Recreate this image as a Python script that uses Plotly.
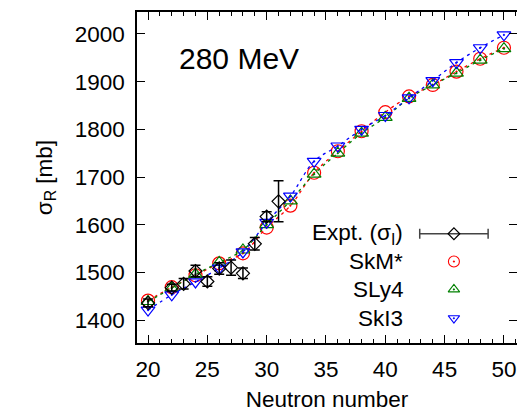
import plotly.graph_objects as go

# ---- data ----
N_theory = [20, 22, 24, 26, 28, 30, 32, 34, 36, 38, 40, 42, 44, 46, 48, 50]
skm = [1441, 1469, 1494, 1519, 1540, 1594, 1640, 1709, 1754, 1796, 1836, 1869, 1893, 1921, 1948, 1971]
sly4 = [1439, 1467, 1496, 1521, 1547, 1600, 1650, 1706, 1750, 1792, 1825, 1865, 1893, 1918, 1945, 1969]
ski3 = [1421, 1453, 1480, 1509, 1543, 1605, 1660, 1733, 1765, 1800, 1829, 1866, 1902, 1940, 1971, 1998]

N_expt = [20, 22, 23, 24, 25, 26, 27, 28, 29, 30, 31]
expt = [1436, 1468, 1476, 1503, 1481, 1508, 1510, 1498, 1560, 1617, 1649]
expt_err = [8, 7, 11, 12, 10, 12, 16, 11, 13, 10, 43]

series_names = ["Expt. (σ<sub>I</sub>)", "SkM*", "SLy4", "SkI3"]
x_ticks = [20, 25, 30, 35, 40, 45, 50]
y_ticks = [1400, 1500, 1600, 1700, 1800, 1900, 2000]

FONT = "Liberation Sans, Arial, Helvetica, sans-serif"
FS = 22.5

fig = go.Figure()

theory = [
    (skm, "red", "circle-open-dot", 13),
    (sly4, "green", "triangle-up-open-dot", 12),
    (ski3, "blue", "triangle-down-open-dot", 12),
]
for vals, col, sym, sz in theory:
    fig.add_trace(go.Scatter(
        x=N_theory, y=vals, mode="lines+markers",
        line=dict(color=col, width=1.3, dash="3px,4px", shape="spline"),
        marker=dict(symbol=sym, size=sz, color=col, line=dict(width=1.2, color=col)),
        showlegend=False,
    ))

fig.add_trace(go.Scatter(
    x=N_expt, y=expt, mode="markers",
    marker=dict(symbol="diamond-open", size=10, color="black", line=dict(width=1.2, color="black")),
    error_y=dict(type="data", array=expt_err, visible=True, color="black", thickness=1.5, width=5),
    showlegend=False,
))

# ---- manual legend (text left, sample right) on overlay axis in [0,1] ----
leg_rows = [0.330, 0.246, 0.162, 0.075]
leg_text_x = 0.705
leg_sym_x = 0.834
for name, yy in zip(series_names, leg_rows):
    fig.add_annotation(xref="paper", yref="paper", x=leg_text_x, y=yy, text=name,
                       showarrow=False, xanchor="right", yanchor="middle",
                       font=dict(family=FONT, size=FS, color="black"))

fig.add_trace(go.Scatter(
    x=[leg_sym_x], y=[leg_rows[0]], xaxis="x2", yaxis="y2", mode="markers",
    marker=dict(symbol="diamond-open", size=9, color="black", line=dict(width=1.2, color="black")),
    error_x=dict(type="constant", value=0.09, visible=True, color="#444", thickness=1.5, width=5),
    showlegend=False,
))
for (vals, col, sym, sz), yy in zip(theory, leg_rows[1:]):
    fig.add_trace(go.Scatter(
        x=[leg_sym_x], y=[yy], xaxis="x2", yaxis="y2", mode="markers",
        marker=dict(symbol=sym, size=sz - 2, color=col, line=dict(width=1.1, color=col)),
        showlegend=False,
    ))

fig.add_annotation(xref="paper", yref="paper", x=0.105, y=0.859, text="280 MeV",
                   showarrow=False, xanchor="left", yanchor="middle",
                   font=dict(family=FONT, size=30, color="black"))

axis_common = dict(
    showline=True, linecolor="black", linewidth=1.6, mirror="allticks",
    ticks="inside", tickcolor="black", tickwidth=1.4, ticklen=8,
    showgrid=False, zeroline=False,
    tickfont=dict(family=FONT, size=FS, color="black"),
)

# page body has an 8px margin, so the figure is sized 8px smaller each way
fig.update_layout(
    width=517, height=407,
    margin=dict(l=129, r=8, t=2, b=72),
    paper_bgcolor="white", plot_bgcolor="white",
    font=dict(family=FONT, size=FS, color="black"),
    xaxis=dict(range=[19.07, 51.1], tickvals=x_ticks, ticklabelstandoff=5,
               minor=dict(dtick=1, ticks="inside", ticklen=4, tickcolor="black", tickwidth=1.2),
               title=dict(text="Neutron number", font=dict(family=FONT, size=FS), standoff=10),
               **axis_common),
    yaxis=dict(range=[1352, 2046], tickvals=y_ticks, ticklabelstandoff=6,
               title=dict(text="σ<sub>R</sub> [mb]", font=dict(family=FONT, size=FS), standoff=16),
               **axis_common),
    xaxis2=dict(overlaying="x", range=[0, 1], visible=False, fixedrange=True),
    yaxis2=dict(overlaying="y", range=[0, 1], visible=False, fixedrange=True),
)

fig.write_html("out.html")
